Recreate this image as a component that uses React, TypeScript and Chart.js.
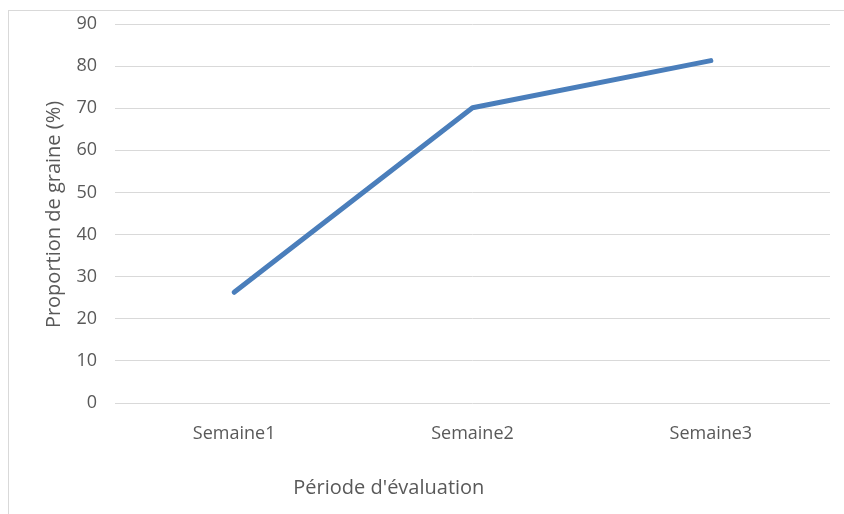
import React, { useEffect, useRef } from "react";
import { Chart, registerables } from "chart.js";

Chart.register(...registerables);

const categories = ["Semaine1", "Semaine2", "Semaine3"];
const proportion = [26.3, 70.1, 81.3];
const yTitle = "Proportion de graine (%)";
const xTitle = "Période d'évaluation";

const FONT = "'Open Sans', 'DejaVu Sans', sans-serif";
const TEXT = "#595959";

const titlePlugin = {
  id: "axisTitles",
  afterDraw(chart: any) {
    const { ctx, chartArea } = chart;
    ctx.save();
    ctx.fillStyle = TEXT;
    ctx.font = `20px ${FONT}`;
    ctx.textAlign = "center";
    ctx.textBaseline = "middle";
    const xx = chartArea.left + (chartArea.right - chartArea.left) * 0.383;
    ctx.fillText(xTitle, xx, chartArea.bottom + 85);
    ctx.translate(chartArea.left - 61, (chartArea.top + chartArea.bottom) / 2 + 1);
    ctx.rotate(-Math.PI / 2);
    ctx.fillText(yTitle, 0, 0);
    ctx.restore();
  },
};

export default function App() {
  const ref = useRef<HTMLCanvasElement>(null);
  useEffect(() => {
    if (!ref.current) return;
    const chart = new Chart(ref.current, {
      type: "line",
      data: {
        labels: categories,
        datasets: [
          {
            data: proportion,
            borderColor: "#4A7EBB",
            borderWidth: 5,
            borderCapStyle: "round",
            borderJoinStyle: "round",
            pointRadius: 0,
            tension: 0,
          },
        ],
      },
      options: {
        responsive: false,
        animation: false,
        layout: { padding: { top: 13, right: 14, left: 0, bottom: 0 } },
        plugins: { legend: { display: false }, tooltip: { enabled: false }, title: { display: false } },
        scales: {
          x: {
            offset: true,
            grid: { display: false, drawTicks: false },
            border: { display: false },
            ticks: { color: TEXT, font: { family: FONT, size: 18 }, padding: 20, maxRotation: 0 },
            afterFit: (s: any) => {
              s.height = 111;
              s.paddingLeft = 0;
              s.paddingRight = 0;
            },
          },
          y: {
            min: 0,
            max: 90,
            grid: { color: "#d9d9d9", lineWidth: 1, drawTicks: false },
            border: { display: false },
            ticks: { stepSize: 10, color: TEXT, font: { family: FONT, size: 18 }, padding: 18 },
            afterFit: (s: any) => {
              s.width = 106;
              s.paddingTop = 0;
              s.paddingBottom = 0;
            },
          },
        },
      },
      plugins: [titlePlugin],
    });
    return () => chart.destroy();
  }, []);
  return (
    <div
      style={{
        position: "fixed",
        left: 8,
        top: 10,
        width: 836,
        height: 504,
        borderLeft: "1px solid #d9d9d9",
        borderTop: "1px solid #d9d9d9",
        background: "#fff",
        overflow: "hidden",
      }}
    >
      <canvas ref={ref} width={835} height={503} style={{ display: "block", width: 835, height: 503 }} />
    </div>
  );
}
